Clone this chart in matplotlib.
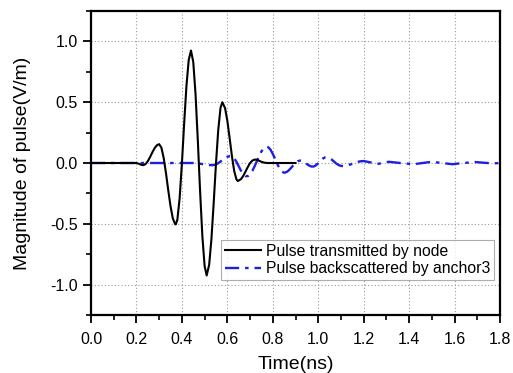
import matplotlib
matplotlib.use("Agg")
import matplotlib.pyplot as plt
from matplotlib.ticker import MultipleLocator

plt.rcParams['font.family'] = ['Liberation Sans', 'DejaVu Sans']

# Transmitted pulse (black)
t_tx = [0.00, 0.15, 0.20, 0.21, 0.22, 0.23, 0.24, 0.25, 0.26, 0.27, 0.28, 0.29, 0.30,
        0.31, 0.32, 0.33, 0.34, 0.35, 0.36, 0.37, 0.373, 0.38, 0.39, 0.40, 0.41, 0.42,
        0.43, 0.44, 0.45, 0.46, 0.47, 0.48, 0.49, 0.50, 0.509, 0.52, 0.53, 0.54, 0.55,
        0.56, 0.57, 0.578, 0.59, 0.60, 0.61, 0.62, 0.63, 0.64, 0.646, 0.66, 0.67, 0.68,
        0.69, 0.70, 0.71, 0.72, 0.73, 0.74, 0.75, 0.76, 0.77, 0.78, 0.90]
v_tx = [0.0, 0.0, 0.0, -0.006, -0.014, -0.018, -0.009, 0.015, 0.049, 0.088, 0.122, 0.146, 0.155,
        0.125, 0.040, -0.084, -0.225, -0.356, -0.455, -0.502, -0.505, -0.467, -0.290, -0.005, 0.327, 0.633,
        0.847, 0.925, 0.831, 0.567, 0.188, -0.229, -0.600, -0.848, -0.925, -0.837, -0.624, -0.326, -0.004,
        0.273, 0.454, 0.500, 0.451, 0.347, 0.206, 0.059, -0.064, -0.135, -0.148, -0.133, -0.106, -0.070,
        -0.033, 0.000, 0.020, 0.028, 0.027, 0.018, 0.010, 0.004, 0.001, 0.0, 0.0]

# Backscattered pulse (blue)
t_bs = [0.00, 0.45, 0.46, 0.47, 0.48, 0.49, 0.50, 0.51, 0.52, 0.535, 0.55, 0.56, 0.57, 0.58,
        0.59, 0.60, 0.61, 0.62, 0.63, 0.64, 0.65, 0.66, 0.67, 0.68, 0.69, 0.70, 0.71, 0.72,
        0.73, 0.74, 0.75, 0.76, 0.77, 0.78, 0.79, 0.80, 0.81, 0.82, 0.83, 0.84, 0.85, 0.86,
        0.87, 0.88, 0.89, 0.90, 0.91, 0.92, 0.93, 0.94, 0.95, 0.96, 0.97, 0.98, 0.99, 1.00,
        1.01, 1.02, 1.03, 1.04, 1.05, 1.06, 1.07, 1.08, 1.09, 1.10, 1.11, 1.12, 1.13, 1.14,
        1.15, 1.16, 1.17, 1.18, 1.19, 1.20, 1.23, 1.26, 1.285, 1.31, 1.36, 1.42, 1.46, 1.50,
        1.545, 1.59, 1.64, 1.69, 1.73, 1.77, 1.80]
v_bs = [0.0, 0.0, -0.001, -0.003, -0.006, -0.009, -0.012, -0.015, -0.017, -0.018, -0.012, -0.001, 0.012, 0.027,
        0.040, 0.051, 0.056, 0.055, 0.039, 0.010, -0.027, -0.063, -0.092, -0.108, -0.108, -0.093, -0.065, -0.027,
        0.016, 0.059, 0.095, 0.121, 0.133, 0.130, 0.109, 0.075, 0.034, -0.009, -0.046, -0.071, -0.080, -0.075,
        -0.061, -0.041, -0.019, 0.001, 0.015, 0.020, 0.016, 0.005, -0.009, -0.021, -0.029, -0.029, -0.019, -0.001,
        0.018, 0.036, 0.046, 0.046, 0.039, 0.027, 0.011, -0.005, -0.017, -0.024, -0.025, -0.022, -0.018, -0.013,
        -0.006, 0.001, 0.007, 0.012, 0.015, 0.016, 0.005, -0.008, 0.0, 0.010, 0.0, -0.010, 0.0, 0.010,
        0.0, -0.010, 0.0, 0.008, 0.002, -0.003, 0.0]

x_ticks = [0.0, 0.2, 0.4, 0.6, 0.8, 1.0, 1.2, 1.4, 1.6, 1.8]
y_ticks = [-1.0, -0.5, 0.0, 0.5, 1.0]

fig = plt.figure(figsize=(5.13, 3.73), dpi=100)
ax = fig.add_axes([0.1774, 0.1555, 0.7973, 0.815])

ax.plot(t_tx, v_tx, color='black', lw=1.5, label='Pulse transmitted by node', zorder=3)
ax.plot(t_bs, v_bs, color='#1f1fe0', lw=1.7, dashes=(6, 2.5, 1.5, 2.5),
        label='Pulse backscattered by anchor3', zorder=2)

ax.set_xlim(0, 1.8)
ax.set_ylim(-1.25, 1.25)
ax.set_xticks(x_ticks)
ax.set_yticks(y_ticks)
ax.set_xticklabels([f"{v:.1f}" for v in x_ticks])
ax.set_yticklabels([f"{v:.1f}" for v in y_ticks])
ax.xaxis.set_minor_locator(MultipleLocator(0.1))
ax.yaxis.set_minor_locator(MultipleLocator(0.25))
ax.tick_params(which='major', direction='out', length=6, width=1.3, labelsize=11.5, top=False, right=False)
ax.tick_params(which='minor', direction='out', length=3.5, width=1.2, top=False, right=False)
ax.tick_params(axis='x', pad=6)

ax.grid(True, which='major', color='#9a9a9a', linestyle=(0, (1, 2)), linewidth=0.8)
ax.set_axisbelow(True)
for s in ax.spines.values():
    s.set_linewidth(1.6)

ax.set_xlabel('Time(ns)', fontsize=14, labelpad=7)
ax.set_ylabel('Magnitude of pulse(V/m)', fontsize=14, labelpad=14)

leg = ax.legend(loc='lower right', bbox_to_anchor=(0.985, 0.115), fontsize=11.3, frameon=True,
                fancybox=False, edgecolor='#999999', handlelength=2.3, handletextpad=0.3,
                borderpad=0.25, labelspacing=0.15, borderaxespad=0.0)
leg.get_frame().set_linewidth(0.8)

fig.savefig('out.png', dpi=100)
